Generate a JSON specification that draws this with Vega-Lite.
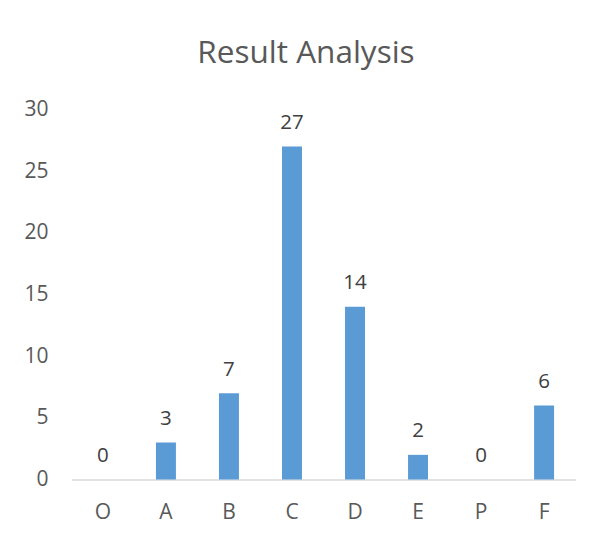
{
  "$schema": "https://vega.github.io/schema/vega-lite/v6.json",
  "autosize": "none",
  "width": 504,
  "height": 370,
  "padding": {"left": 71.5, "top": 109.5, "right": 18.5, "bottom": 55.5},
  "background": "white",
  "title": {
    "text": "Result Analysis",
    "font": "Open Sans",
    "fontSize": 31.5,
    "fontWeight": "normal",
    "color": "#595959",
    "anchor": "middle",
    "dx": -17.5,
    "offset": 29
  },
  "data": {
    "values": [
      {"grade": "O", "count": 0},
      {"grade": "A", "count": 3},
      {"grade": "B", "count": 7},
      {"grade": "C", "count": 27},
      {"grade": "D", "count": 14},
      {"grade": "E", "count": 2},
      {"grade": "P", "count": 0},
      {"grade": "F", "count": 6}
    ]
  },
  "encoding": {
    "x": {
      "field": "grade",
      "type": "nominal",
      "sort": null,
      "scale": {"paddingInner": 0.683, "paddingOuter": 0.34},
      "axis": {
        "title": null,
        "labelAngle": 0,
        "labelFont": "Open Sans",
        "labelFontSize": 21,
        "labelColor": "#595959",
        "ticks": false,
        "tickSize": 0,
        "labelPadding": 21.5,
        "domainColor": "#d9d9d9",
        "domainWidth": 1.6,
        "grid": false
      }
    },
    "y": {
      "field": "count",
      "type": "quantitative",
      "scale": {"domain": [0, 30], "nice": false},
      "axis": {
        "title": null,
        "values": [0, 5, 10, 15, 20, 25, 30],
        "labelFont": "Open Sans",
        "labelFontSize": 21,
        "labelColor": "#595959",
        "ticks": false,
        "tickSize": 0,
        "labelPadding": 23.5,
        "domain": false,
        "grid": false
      }
    }
  },
  "layer": [
    {"mark": {"type": "bar", "color": "#5b9bd5"}},
    {
      "mark": {
        "type": "text",
        "font": "Open Sans",
        "fontSize": 20.5,
        "color": "#404040",
        "baseline": "alphabetic",
        "dy": -17.5
      },
      "encoding": {"text": {"field": "count", "type": "quantitative"}}
    }
  ],
  "config": {"view": {"stroke": null}}
}
